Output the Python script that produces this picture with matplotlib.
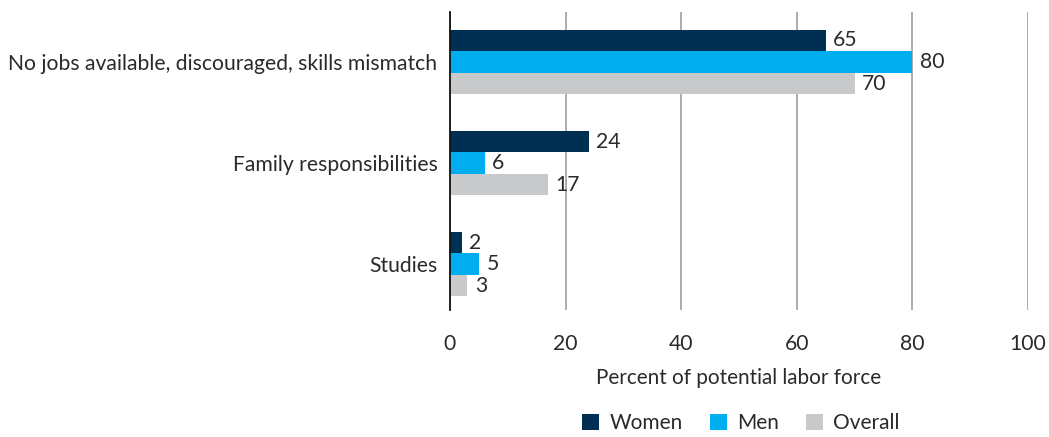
import matplotlib
matplotlib.use("Agg")
import matplotlib.pyplot as plt
import numpy as np

categories = ["No jobs available, discouraged, skills mismatch", "Family responsibilities", "Studies"]
women = [65, 24, 2]
men = [80, 6, 5]
overall = [70, 17, 3]
series_names = ["Women", "Men", "Overall"]
colors = ["#002f54", "#00aeef", "#c8c9cb"]
xticks = [0, 20, 40, 60, 80, 100]

plt.rcParams['font.family'] = ['Lato', 'DejaVu Sans']
FS = 15.2
TXT = "#2a2a2a"
fig = plt.figure(figsize=(10.49, 4.37), dpi=100)
ax = fig.add_axes([450/1049, 1-310/437, (1028-450)/1049, (310-12)/437])

y = np.arange(len(categories))
h = 0.213
for i, (vals, name, c) in enumerate(zip([women, men, overall], series_names, colors)):
    pos = y + (i - 1) * h
    ax.barh(pos, vals, height=h, color=c, label=name, zorder=3)
    for p, v in zip(pos, vals):
        ax.text(v + 1.3, p, f"{v}", va="center", ha="left", fontsize=FS, color=TXT, zorder=4)

ax.set_ylim(2.455, -0.495)
ax.set_xlim(0, 100)
ax.set_xticks(xticks)
ax.set_xticklabels([str(t) for t in xticks], fontsize=FS, color=TXT)
ax.set_yticks(y)
ax.set_yticklabels(categories, fontsize=FS, color=TXT)
ax.tick_params(axis="both", length=0)
ax.tick_params(axis="y", pad=9)
ax.tick_params(axis="x", pad=17)
ax.xaxis.grid(True, color="#a6a6a6", linewidth=1.3, zorder=0)
for s in ["top", "right", "bottom"]:
    ax.spines[s].set_visible(False)
ax.spines["left"].set_color("#111111")
ax.spines["left"].set_linewidth(1.3)
ax.spines["left"].set_zorder(5)
ax.set_xlabel("Percent of potential labor force", fontsize=FS - 0.3, color=TXT, labelpad=10)

leg = fig.legend(loc="center", bbox_to_anchor=(741/1049, 1-423/437), ncol=3, frameon=False,
                 fontsize=FS - 0.2, handlelength=0.8, handleheight=0.8, handletextpad=0.5, columnspacing=1.3)
for t in leg.get_texts():
    t.set_color(TXT)

fig.savefig("out.png", dpi=100)
